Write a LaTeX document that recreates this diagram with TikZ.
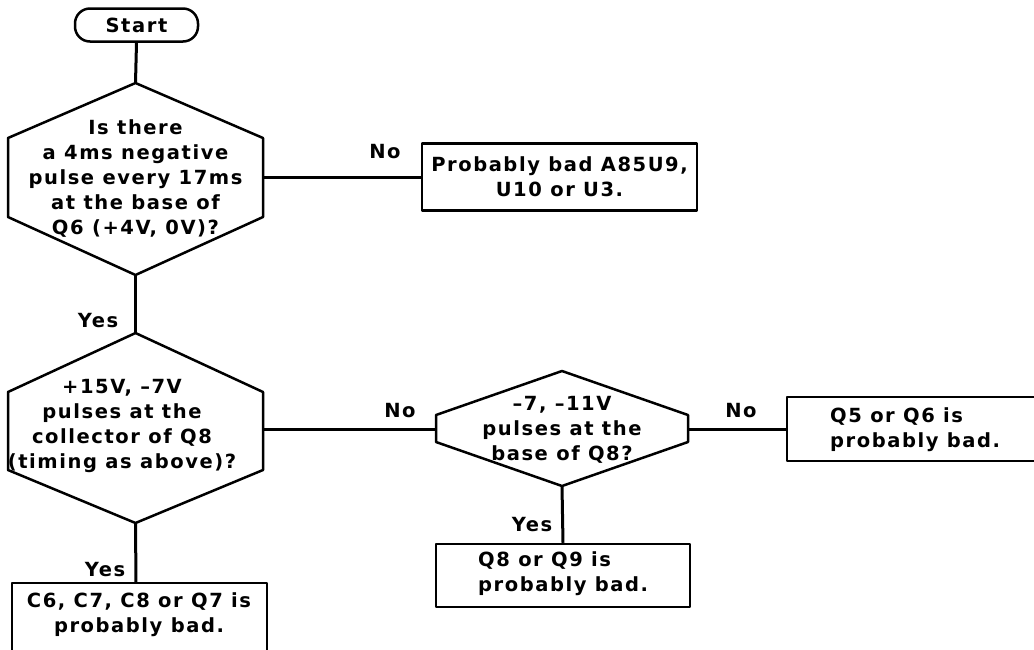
\documentclass[tikz,border=0pt]{standalone}
\usepackage{fontspec}
\setmainfont{DejaVu Sans}[LetterSpace=8, UprightFont=* Bold]
\begin{document}
\begin{tikzpicture}[x=1pt,y=-1pt,
  txt/.style={font=\fontsize{19.5}{25}\selectfont, align=center, inner sep=0pt},
  txtl/.style={font=\fontsize{19.5}{25}\selectfont, align=left, inner sep=0pt, anchor=west},
  outline/.style={line width=2.5pt, line join=round},
  conn/.style={line width=3pt},
  lbl/.style={font=\fontsize{19.5}{25}\selectfont, inner sep=0pt}]
\useasboundingbox (0,0) rectangle (1034,649);
\clip (0,0) rectangle (1034,649);

% Start
\node[txt, draw, outline, rounded corners=15pt, minimum width=123pt, minimum height=33pt] (start) at (136.5,25) {Start};

% Decision 1
\node[txt] (d1) at (135.5,179) {Is there\\a 4ms negative\\pulse every 17ms\\at the base of\\Q6 (+4V, 0V)?};
\draw[outline] (135.5,83) coordinate (d1t) -- (263,138) -- (263,217) -- (135.5,275) coordinate (d1b)
  -- (8,217) -- (8,138) -- cycle;
\coordinate (d1r) at (263,177);

% Box 1
\node[txt, draw, outline, minimum width=275pt, minimum height=67pt] (b1) at (559.5,177) {Probably bad A85U9,\\U10 or U3.};
\node[lbl] (no1) at (385,152) {No};

% Decision 2
\node[lbl] (yes1) at (98,321) {Yes};
\node[txt] (d2) at (122,426) {+15V, –7V\\pulses at the\\collector of Q8\\(timing as above)?};
\draw[outline] (135.5,333) coordinate (d2t) -- (263,392) -- (263,470) -- (135.5,523) coordinate (d2b)
  -- (8,470) -- (8,392) -- cycle;
\coordinate (d2r) at (263,429);

% Decision 3
\node[lbl] (no2) at (400,411) {No};
\node[txt] (d3) at (562,430) {–7, –11V\\pulses at the\\base of Q8?};
\draw[outline] (562,371) coordinate (d3t) -- (688,415) -- (688,442) -- (562,486) coordinate (d3b)
  -- (436,442) -- (436,415) -- cycle;
\coordinate (d3l) at (436,429);
\coordinate (d3r) at (688,429);

% Box 3 (right, cut off)
\node[lbl] (no3) at (741,411) {No};
\draw[outline] (1040,397) -- (787,397) coordinate (b3nw) -- (787,461) -- (1040,461);
\coordinate (b3w) at (787,429);
\node[txtl] (b3) at (830,430) {Q5 or Q6 is\\probably bad.};

% Box 4 (Q8 or Q9)
\node[lbl] (yes3) at (532,525) {Yes};
\node[draw, outline, minimum width=254pt, minimum height=63pt, inner sep=0pt] (b4) at (563,575.5) {};
\node[txtl] (b4t) at (478,574) {Q8 or Q9 is\\probably bad.};

% Box 5 (bottom left, cut off)
\node[lbl] (yes2) at (105,570) {Yes};
\draw[outline] (12,660) -- (12,583) coordinate (b5nw) -- (267,583) -- (267,660);
\coordinate (b5n) at (136,583);
\node[txt] (b5) at (139,615) {C6, C7, C8 or Q7 is\\probably bad.};

% Connectors
\draw[conn] (start.south) -- (d1t);
\draw[conn] (d1b) -- (d2t);
\draw[conn] (d1r) -- (b1.west);
\draw[conn] (d2r) -- (d3l);
\draw[conn] (d2b) -- (b5n);
\draw[conn] (d3r) -- (b3w);
\draw[conn] (d3b) -- (b4.north);
\end{tikzpicture}
\end{document}
